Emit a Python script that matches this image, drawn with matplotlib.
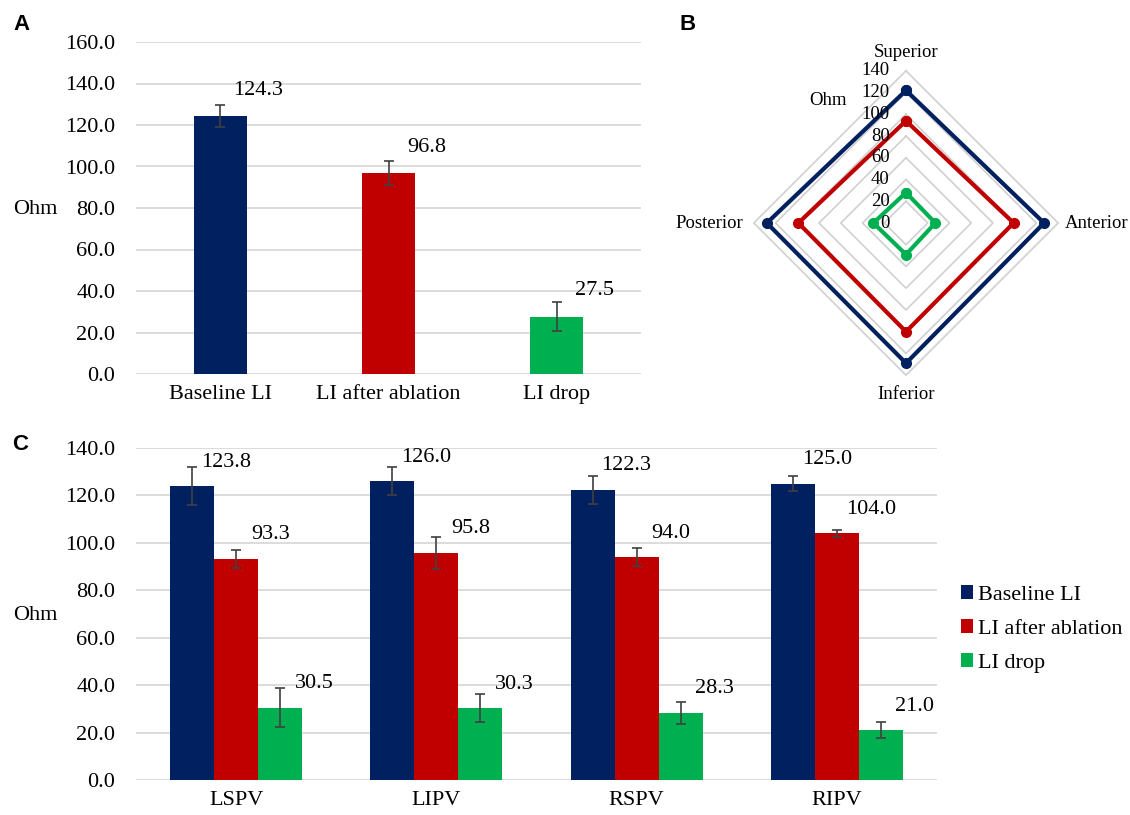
import numpy as np
import matplotlib
matplotlib.use('Agg')
import matplotlib.pyplot as plt
from matplotlib.patches import Patch

plt.rcParams['font.family'] = ['Liberation Serif', 'DejaVu Serif']

# 数据
series = ['Baseline LI', 'LI after ablation', 'LI drop']
colors = ['#002060', '#C00000', '#00B050']

a_values = [124.3, 96.8, 27.5]
a_err = [5.5, 5.8, 7.0]

b_axes = ['Superior', 'Anterior', 'Inferior', 'Posterior']
b_baseline = [122, 127, 129, 128]
b_after = [94, 99, 100, 99]
b_drop = [28, 27, 29, 30]

c_veins = ['LSPV', 'LIPV', 'RSPV', 'RIPV']
c_baseline = [123.8, 126.0, 122.3, 125.0]
c_after = [93.3, 95.8, 94.0, 104.0]
c_drop = [30.5, 30.3, 28.3, 21.0]
c_baseline_err = [8.0, 6.0, 5.9, 3.0]
c_after_err = [3.7, 6.7, 3.9, 1.5]
c_drop_err = [8.2, 6.0, 4.7, 3.3]

W, H = 1130, 815
fig = plt.figure(figsize=(W / 100, H / 100), dpi=100)


def box(l, t, r, b):
    return [l / W, 1 - b / H, (r - l) / W, (b - t) / H]


grid_c = '#D9D9D9'
err_kw = dict(ecolor='#404040', elinewidth=1.2, capsize=3.5, capthick=1.2)
fs = 16


def style_bar_axes(ax):
    for s in ax.spines.values():
        s.set_visible(False)
    ax.yaxis.grid(True, color=grid_c, lw=1.3)
    ax.set_axisbelow(True)
    ax.tick_params(length=0, labelsize=fs)
    ax.tick_params(axis='y', pad=15)
    ax.tick_params(axis='x', pad=8)
    ax.yaxis.set_major_formatter(matplotlib.ticker.FormatStrFormatter('%.1f'))


# ---- A ----
axA = fig.add_axes(box(136, 42, 641, 374))
x = np.arange(len(series))
axA.bar(x, a_values, width=0.315, color=colors, yerr=a_err, error_kw=err_kw, zorder=2)
for xi, v in zip(x, a_values):
    axA.annotate('%.1f' % v, (xi, v), xytext=(38, 26), textcoords='offset pixels',
                 ha='center', va='center', fontsize=fs)
axA.set_xlim(-0.5, 2.5)
axA.set_ylim(0, 160)
axA.set_yticks(range(0, 161, 20))
axA.set_xticks(x)
axA.set_xticklabels(series)
style_bar_axes(axA)
fig.text(35 / W, 1 - 210 / H, 'Ohm', ha='center', va='center', fontsize=fs)

# ---- B ----
axB = fig.add_axes(box(706, 23, 1106, 423))
axB.set_xlim(-184, 184)
axB.set_ylim(-184, 184)
axB.set_aspect('equal')
axB.axis('off')
ang = np.deg2rad([90, 0, -90, 180])
ang_c = np.append(ang, ang[0])
for r in range(20, 141, 20):
    axB.plot(r * np.cos(ang_c), r * np.sin(ang_c), color='#D0D0D0', lw=1.2, zorder=1)
for vals, c in zip([b_baseline, b_after, b_drop], colors):
    v = np.append(vals, vals[0])
    axB.plot(v * np.cos(ang_c), v * np.sin(ang_c), color=c, lw=3, marker='o',
             markersize=7, zorder=3)
bfs = 13.5
for r in range(0, 141, 20):
    axB.text(-15, r, str(r), ha='right', va='center', fontsize=bfs, zorder=4)
axB.text(0, 157, b_axes[0], ha='center', va='center', fontsize=bfs)
axB.text(146, 0, b_axes[1], ha='left', va='center', fontsize=bfs)
axB.text(0, -158, b_axes[2], ha='center', va='center', fontsize=bfs)
axB.text(-150, 0, b_axes[3], ha='right', va='center', fontsize=bfs)
axB.text(-72, 113, 'Ohm', ha='center', va='center', fontsize=bfs)

# ---- C ----
axC = fig.add_axes(box(136, 448, 937, 780))
xc = np.arange(len(c_veins))
bw = 0.22
groups = [(c_baseline, c_baseline_err), (c_after, c_after_err), (c_drop, c_drop_err)]
for i, ((vals, errs), c, name) in enumerate(zip(groups, colors, series)):
    pos = xc + (i - 1) * bw
    axC.bar(pos, vals, width=bw, color=c, yerr=errs, error_kw=err_kw, zorder=2, label=name)
    for xi, v in zip(pos, vals):
        axC.annotate('%.1f' % v, (xi, v), xytext=(34, 24), textcoords='offset pixels',
                     ha='center', va='center', fontsize=fs)
axC.set_xlim(-0.5, 3.5)
axC.set_ylim(0, 140)
axC.set_yticks(range(0, 141, 20))
axC.set_xticks(xc)
axC.set_xticklabels(c_veins)
style_bar_axes(axC)
fig.text(35 / W, 1 - 615 / H, 'Ohm', ha='center', va='center', fontsize=fs)

handles = [Patch(facecolor=c, label=n) for c, n in zip(colors, series)]
fig.legend(handles=handles, loc='center left', bbox_to_anchor=(961 / W, 1 - 629 / H),
           frameon=False, fontsize=fs, handlelength=0.55, handleheight=0.55,
           handletextpad=0.2, labelspacing=0.65, borderaxespad=0, borderpad=0)

# 面板字母
for t, px, py in [('A', 21, 25), ('B', 688, 24), ('C', 20, 445)]:
    fig.text(px / W, 1 - py / H, t, ha='center', va='center', fontsize=16,
             fontweight='bold', family='Liberation Sans')

fig.savefig('out.png', dpi=100)
